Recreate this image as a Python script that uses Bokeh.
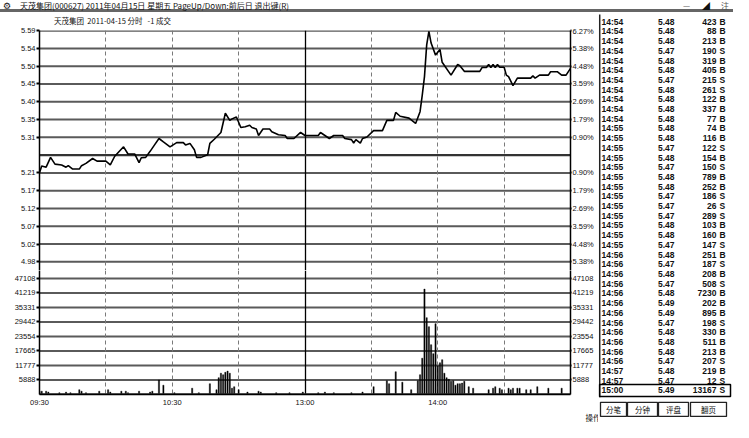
from bokeh.plotting import figure
from bokeh.models import Range1d, LinearAxis, FixedTicker, Div, ColumnDataSource, Title
from bokeh.layouts import column, row
from bokeh.embed import file_html
from bokeh.resources import INLINE
from bokeh.core.properties import value

# ---------------- data ----------------
pre_close = 5.26
pct_step = 0.8957          # percent between price grid lines
grid_steps = [7, 6, 5, 4, 3, 2, 1, -1, -2, -3, -4, -5, -6]
price_tick_labels = ["5.59", "5.54", "5.50", "5.45", "5.40", "5.35", "5.31",
                     "5.21", "5.17", "5.12", "5.07", "5.02", "4.98"]
pct_tick_labels = ["6.27%", "5.38%", "4.48%", "3.59%", "2.69%", "1.79%", "0.90%",
                   "0.90%", "1.79%", "2.69%", "3.59%", "4.48%", "5.38%"]
vol_ticks = [5888, 11777, 17665, 23554, 29442, 35331, 41219, 47108]
vol_tick_labels = ["5888", "11777", "17665", "23554", "29442", "35331", "41219", "47108"]
time_ticks = [0, 60, 120, 180]
time_tick_labels = ["09:30", "10:30", "13:00", "14:00"]
dashed_minutes = [30, 60, 90, 150, 180, 210]
session_break = 120
session_start, session_end = 0, 240

price_minute = [0, 1, 3, 5, 7, 10, 12, 13, 15, 18, 19, 21, 24, 26, 30, 32, 34, 38, 40, 43,
                45, 46, 48, 50, 52, 54, 56, 59, 62, 65, 66, 68, 70, 71, 73, 76, 77, 79, 82, 84,
                86, 87, 89, 91, 93, 95, 96, 98, 99, 101, 104, 105, 108, 111, 112, 115, 118, 120,
                126, 127, 129, 131, 133, 137, 138, 141, 142, 143, 145, 146, 148, 151, 155, 157,
                160, 161, 163, 167, 170, 172, 173, 174, 175, 176, 177, 179, 181, 182, 186, 189,
                190, 192, 199, 200, 202, 203, 204, 205, 206, 207, 208, 210, 211, 212, 214, 216,
                222, 223, 224, 226, 230, 231, 234, 236, 238, 240]
price_value = [5.213, 5.231, 5.228, 5.254, 5.236, 5.234, 5.228, 5.232, 5.223, 5.223, 5.232,
               5.238, 5.251, 5.244, 5.244, 5.234, 5.257, 5.282, 5.263, 5.263, 5.240, 5.253,
               5.254, 5.270, 5.287, 5.304, 5.295, 5.282, 5.293, 5.293, 5.287, 5.291, 5.274,
               5.254, 5.254, 5.261, 5.291, 5.302, 5.320, 5.371, 5.352, 5.356, 5.361, 5.333,
               5.335, 5.339, 5.333, 5.329, 5.312, 5.329, 5.329, 5.322, 5.314, 5.312, 5.304,
               5.304, 5.320, 5.312,
               5.312, 5.320, 5.312, 5.304, 5.312, 5.312, 5.304, 5.301, 5.292, 5.301, 5.292,
               5.304, 5.308, 5.325, 5.325, 5.352, 5.352, 5.373, 5.363, 5.358, 5.344, 5.375,
               5.419, 5.468, 5.552, 5.588, 5.557, 5.525, 5.540, 5.506, 5.472, 5.500, 5.497,
               5.482, 5.482, 5.492, 5.492, 5.500, 5.492, 5.500, 5.492, 5.500, 5.493, 5.493,
               5.472, 5.468, 5.444, 5.464, 5.464, 5.470, 5.464, 5.472, 5.472, 5.481, 5.481,
               5.472, 5.472, 5.490]

vol_minute = [0, 1, 3, 4, 9, 12, 14, 18, 19, 21, 27, 31, 32, 37, 39, 40, 45, 50, 51, 54, 56,
              61, 69, 72, 77, 80, 81, 82, 83, 84, 85, 86, 87, 88, 90, 94, 99, 100, 107, 113, 119,
              126, 129, 133, 141, 146, 151, 157, 158, 161, 164, 168, 171, 172, 173, 174, 175,
              176, 177, 178, 179, 180, 181, 182, 183, 184, 185, 186, 187, 188, 189, 190, 191,
              192, 194, 196, 203, 205, 206, 208, 209, 212, 213, 214, 216, 217, 220, 222, 225,
              230, 236]
vol_value = [1340, 1340, 1340, 975, 730, 975, 730, 1950, 1340, 730, 1340, 1950, 975, 1340,
             1340, 730, 1340, 975, 1340, 5850, 3780, 730, 2560, 730, 4390, 1950, 6830, 8650,
             8040, 9020, 9500, 8650, 2560, 3170, 1950, 975, 1340, 975, 730, 730, 975,
             730, 975, 730, 730, 1000, 3170, 5600, 4390, 9260, 5000, 1950, 5600, 8045, 14750,
             42790, 31200, 27550, 20240, 16580, 28770, 11700, 12900, 14140, 8650, 6830, 6200,
             5360, 5600, 3780, 4390, 4390, 4630, 5360, 3170, 2560, 1950, 2560, 3170, 2560,
             1950, 2560, 1950, 2560, 2560, 2560, 1950, 1950, 3170, 2560, 2560]

trade_time = ["14:54"] * 11 + ["14:55"] * 13 + ["14:56"] * 12 + ["14:57"] * 2 + ["15:00"]
trade_price = ["5.48", "5.48", "5.48", "5.47", "5.48", "5.48", "5.47", "5.48", "5.48", "5.48",
               "5.48", "5.48", "5.48", "5.47", "5.48", "5.47", "5.48", "5.48", "5.47", "5.47",
               "5.47", "5.48", "5.48", "5.47", "5.48", "5.47", "5.48", "5.47", "5.48", "5.49",
               "5.49", "5.47", "5.48", "5.48", "5.48", "5.47", "5.48", "5.47", "5.49"]
trade_vol = ["423", "88", "213", "190", "319", "405", "215", "261", "122", "337", "77",
             "74", "116", "122", "154", "150", "789", "252", "186", "26", "289", "103", "160",
             "147", "251", "187", "208", "508", "7230", "202", "895", "198", "330", "511",
             "213", "207", "219", "12", "13167"]
trade_side = ["B", "B", "B", "S", "B", "B", "S", "S", "B", "B", "B", "B", "B", "S", "B", "S",
              "B", "B", "S", "S", "S", "B", "B", "S", "B", "S", "B", "S", "B", "B", "B", "S",
              "B", "B", "B", "S", "B", "S", "S"]
button_labels = ["分笔", "分钟", "评盘", "翻页"]

title_text = "天茂集团(000627) 2011年04月15日 星期五 PageUp/Down:前后日 退出键(R)"
subtitle_text = "天茂集团 &nbsp;2011-04-15 分时 &nbsp; -1 成交"
ops_text = "操作"

# ---------------- styling helpers ----------------
NUM_FONT = "Liberation Sans"
CJK = "Noto Sans CJK SC"
price_ticks = [round(pre_close * (1 + s * pct_step / 100), 6) for s in grid_steps]
price_top = price_ticks[0] + 0.0004
price_bottom = pre_close * (1 - 6.49 * pct_step / 100)
vol_top = 47108 + 9 / 16.375 * 5888

LB, RB = 39, 28
MAIN_W = 598
GRID_COLOR = "#5a5a5a"


def style_axis(ax, labels_size="7.5px"):
    ax.major_label_text_font = NUM_FONT
    ax.major_label_text_font_size = labels_size
    ax.major_label_text_color = "#111111"
    ax.axis_line_color = "black"
    ax.axis_line_width = 1.5
    ax.major_tick_line_color = "black"
    ax.major_tick_line_width = 2
    ax.minor_tick_line_color = None
    ax.major_tick_in = 0


def vertical_lines(fig):
    fig.vspan(x=dashed_minutes, line_color="#7a7a7a", line_dash="4 3", line_width=1)
    fig.vspan(x=[session_break], line_color="black", line_width=1.3)


def horizontal_lines(fig, ticks, color=GRID_COLOR, width=2):
    fig.segment(x0=[session_start] * len(ticks), x1=[session_end] * len(ticks),
                y0=ticks, y1=ticks, line_color=color, line_width=width)


def base_fig(**kw):
    f = figure(x_axis_location=None, y_axis_location=None, output_backend="svg",
               toolbar_location=None, **kw)
    f.xgrid.visible = False
    f.ygrid.visible = False
    f.outline_line_color = None
    f.background_fill_color = "white"
    f.border_fill_color = "white"
    return f


# ---------------- price panel ----------------
p = base_fig(width=MAIN_W, height=244, x_range=Range1d(session_start, session_end),
             y_range=Range1d(price_bottom, price_top),
             min_border_left=LB, min_border_right=RB, min_border_top=4, min_border_bottom=0)

pl = LinearAxis(ticker=FixedTicker(ticks=price_ticks),
                major_label_overrides={t: l for t, l in zip(price_ticks, price_tick_labels)})
style_axis(pl)
pl.major_tick_out = 3
pl.major_label_standoff = 1
p.add_layout(pl, "left")
pr = LinearAxis(ticker=FixedTicker(ticks=price_ticks),
                major_label_overrides={t: l for t, l in zip(price_ticks, pct_tick_labels)})
style_axis(pr)
pr.major_tick_out = 1
pr.major_label_standoff = 1
p.add_layout(pr, "right")

horizontal_lines(p, price_ticks)
vertical_lines(p)
horizontal_lines(p, [pre_close], color="#333333", width=2.4)
p.line(price_minute, price_value, line_color="black", line_width=1.6)

# ---------------- volume panel ----------------
v = base_fig(width=MAIN_W, height=152, x_range=p.x_range, y_range=Range1d(0, vol_top),
             min_border_left=LB, min_border_right=RB, min_border_top=0, min_border_bottom=17)

vl = LinearAxis(ticker=FixedTicker(ticks=vol_ticks),
                major_label_overrides={t: l for t, l in zip(vol_ticks, vol_tick_labels)})
style_axis(vl)
vl.major_tick_out = 3
vl.major_label_standoff = 1
v.add_layout(vl, "left")
vr = LinearAxis(ticker=FixedTicker(ticks=vol_ticks),
                major_label_overrides={t: l for t, l in zip(vol_ticks, vol_tick_labels)})
style_axis(vr)
vr.major_tick_out = 1
vr.major_label_standoff = 1
v.add_layout(vr, "right")
vb = LinearAxis(ticker=FixedTicker(ticks=time_ticks),
                major_label_overrides={t: l for t, l in zip(time_ticks, time_tick_labels)})
style_axis(vb)
vb.major_tick_out = 0
vb.major_label_standoff = 3
v.add_layout(vb, "below")

horizontal_lines(v, vol_ticks)
vertical_lines(v)
v.vbar(x=vol_minute, top=vol_value, width=0.55, bottom=0, fill_color="black",
       line_color="black", line_width=0.4)
horizontal_lines(v, [0], color="#333333", width=2.4)
v.add_layout(Title(text=ops_text, align="right", offset=-30, standoff=0,
                   text_font=CJK, text_font_size="7.5px", text_font_style="normal",
                   text_color="#111111"), "below")

# ---------------- trade list ----------------
n = len(trade_time)
t = base_fig(width=135, height=408, x_range=Range1d(0, 135), y_range=Range1d(41.3, -0.74),
             min_border=0)
src = ColumnDataSource(dict(row=list(range(n)), time=trade_time, price=trade_price,
                            vol=trade_vol, side=trade_side))
common = dict(source=src, y="row", text_font=value(NUM_FONT), text_font_size="8.5px",
              text_font_style="bold", text_baseline="middle", text_color="#111111")
t.text(x=3, text="time", text_align="left", **common)
t.text(x=76, text="price", text_align="right", **common)
t.text(x=118, text="vol", text_align="right", **common)
t.text(x=121, text="side", text_align="left", **common)
t.segment(x0=[1.2], y0=[-0.9], x1=[1.2], y1=[38.7], line_color="#222222", line_width=1.5)
t.rect(x=[66.5], y=[n - 1], width=131, height=1.25, fill_color=None, line_color="black",
       line_width=1.5)
bx = [15, 44, 75, 110]
bw = [26, 30, 30, 36]
t.rect(x=bx, y=[39.95] * 4, width=bw, height=1.45, fill_color="white", line_color="#222222",
       line_width=1.3)
t.text(x=bx, y=[39.95] * 4, text=button_labels, text_font=value(CJK), text_font_size="7.5px",
       text_align="center", text_baseline="middle", text_color="#111111")

# ---------------- header ----------------
title_html = (
    '<div style="position:relative;width:733px;height:11px;border-bottom:3px solid #666;'
    'font-family:\'Noto Sans CJK SC\';font-size:8px;line-height:12px;color:#111;white-space:nowrap;">'
    '<span style="position:absolute;left:3px;top:0px;font-family:\'DejaVu Sans\';font-size:9px;'
    'line-height:11px;">&#x2699;</span>'
    '<span style="position:absolute;left:20px;top:-1px;">' + title_text + '</span>'
    '<span style="position:absolute;left:683px;top:-1px;color:#555;">&#x2014;</span>'
    '<span style="position:absolute;left:702px;top:-1px;">&#x25E2;</span>'
    '<span style="position:absolute;left:721px;top:-1px;color:#555;">&#x6CE8;</span>'
    '</div>'
)
header = Div(text=title_html, width=733, height=14, margin=0)
sub_html = (
    '<div style="position:relative;width:598px;height:12px;font-family:\'Noto Sans CJK SC\';'
    'font-size:7.5px;line-height:12px;color:#111;white-space:nowrap;">'
    '<span style="position:absolute;left:54px;top:1px;">' + subtitle_text + '</span></div>'
)
sub = Div(text=sub_html, width=MAIN_W, height=12, margin=0)

left = column(sub, p, v, spacing=0)
layout = column(header, row(left, t, spacing=0), spacing=0)

open("out.html", "w").write(file_html(layout, INLINE))
